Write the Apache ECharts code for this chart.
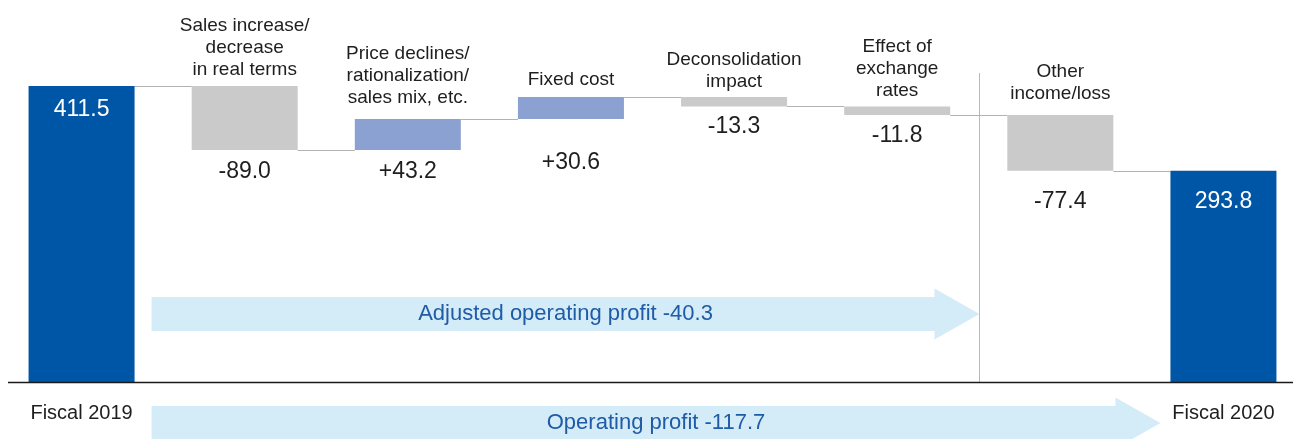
<!DOCTYPE html>
<html>
<head>
<meta charset="utf-8">
<script src="https://cdn.jsdelivr.net/npm/echarts@6/dist/echarts.min.js"></script>
<style>
  html, body { margin: 0; padding: 0; background: #ffffff; overflow: hidden; }
  #chart { width: 1305px; height: 439px; }
</style>
</head>
<body>
<div id="chart"></div>
<script>
// Operating profit bridge, fiscal 2019 -> fiscal 2020 (billions of yen)
const categories = [
  'Fiscal 2019',
  'Sales increase/\ndecrease\nin real terms',
  'Price declines/\nrationalization/\nsales mix, etc.',
  'Fixed cost',
  'Deconsolidation\nimpact',
  'Effect of\nexchange\nrates',
  'Other\nincome/loss',
  'Fiscal 2020'
];
// first and last entries are totals, the rest are changes
const values = [411.5, -89.0, 43.2, 30.6, -13.3, -11.8, -77.4, 293.8];
const kinds = ['total', 'down', 'up', 'up', 'down', 'down', 'down', 'total'];
const arrowLabels = ['Adjusted operating profit -40.3', 'Operating profit -117.7'];

// layout settings
const VIEW_W = 1293;
const BAR_W = 106;
const FONT = '"Liberation Sans", Arial, Helvetica, sans-serif';
const COLORS = { total: '#0056a6', down: '#c9cac9', up: '#8aa1d2' };
const nameGap = [0, 5, 10, 6, 4, 5, 10, 0];        // name label gap above bar
const valueGap = [11, 9, 9, 31, 7, 8, 18, 18];     // value label gap below bar / inside total
const ARROW_FILL = '#d4ebf8';
const ARROW_TEXT = '#1f5ba6';

function fmt(v, kind) {
  if (kind === 'total') return v.toFixed(1);
  return (v > 0 ? '+' : '-') + Math.abs(v).toFixed(1);
}

// waterfall geometry: invisible base + visible segment, plus running level
const baseData = [];
const barData = [];
const levels = [];
let level = 0;
values.forEach((v, i) => {
  const kind = kinds[i];
  let base, height;
  if (kind === 'total') {
    base = 0; height = v; level = v;
  } else {
    const next = level + v;
    base = Math.min(level, next);
    height = Math.abs(v);
    level = next;
  }
  levels.push(level);
  baseData.push({
    value: base,
    label: kind === 'total' ? { show: false } : {
      show: true, position: 'insideTop', distance: valueGap[i],
      formatter: fmt(v, kind), color: '#1e1e1e', fontSize: 23, lineHeight: 26, fontFamily: FONT
    }
  });
  barData.push({
    value: height,
    itemStyle: { color: COLORS[kind] },
    label: kind === 'total' ? {
      show: true, position: 'insideTop', distance: valueGap[i],
      formatter: fmt(v, kind), color: '#ffffff', fontSize: 23, lineHeight: 26, fontFamily: FONT
    } : {
      show: true, position: 'top', distance: nameGap[i],
      formatter: categories[i], color: '#1e1e1e', fontSize: 19, lineHeight: 22, fontFamily: FONT, align: 'center'
    }
  });
});
const connectorData = levels.slice(0, -1).map((lv, i) => [i, lv]);

const chart = echarts.init(document.getElementById('chart'), null, { renderer: 'canvas' });

chart.setOption({
  animation: false,
  backgroundColor: '#ffffff',
  grid: { left: 0, right: 0, top: 0, bottom: 57 },
  xAxis: {
    type: 'category',
    data: categories,
    axisLine: { show: false },
    axisTick: { show: false },
    axisLabel: {
      interval: 0,
      margin: 21,
      fontSize: 20,
      lineHeight: 20,
      color: '#1e1e1e',
      fontFamily: FONT,
      formatter: (v, i) => (kinds[i] === 'total' ? v : '')
    }
  },
  yAxis: { type: 'value', min: 0, max: 531, show: false, splitLine: { show: false } },
  series: [
    {
      type: 'bar', stack: 'wf', barWidth: BAR_W, silent: true,
      itemStyle: { color: 'rgba(0,0,0,0)' },
      data: baseData, z: 3
    },
    {
      type: 'bar', stack: 'wf', barWidth: BAR_W, silent: true,
      data: barData, z: 3
    },
    {
      type: 'custom', silent: true, z: 2,
      data: connectorData,
      renderItem: function (params, api) {
        const i = api.value(0);
        const lv = api.value(1);
        const a = api.coord([i, lv]);
        const b = api.coord([i + 1, lv]);
        const y = Math.round(a[1]) + 0.5;
        return {
          type: 'line',
          shape: { x1: a[0] + BAR_W / 2, y1: y, x2: b[0] - BAR_W / 2, y2: y },
          style: { stroke: '#b2b2b2', lineWidth: 1 }
        };
      }
    }
  ]
});

// annotations: baseline, separator and summary arrows placed from the axes
function arrow(x0, tip, cy, text) {
  const hs = 17, hh = 25.5, hl = 45;
  return [
    {
      type: 'polygon', silent: true, z: 1,
      shape: { points: [
        [x0, cy - hs], [tip - hl, cy - hs], [tip - hl, cy - hh], [tip, cy],
        [tip - hl, cy + hh], [tip - hl, cy + hs], [x0, cy + hs]
      ] },
      style: { fill: ARROW_FILL }
    },
    {
      type: 'text', silent: true, z: 2,
      x: (x0 + tip) / 2, y: cy,
      style: {
        text: text, fill: ARROW_TEXT, fontSize: 22, fontFamily: FONT,
        align: 'center', verticalAlign: 'middle'
      }
    }
  ];
}

const cx = categories.map((c, i) => chart.convertToPixel({ xAxisIndex: 0 }, i));
const baseY = chart.convertToPixel({ yAxisIndex: 0 }, 0);
const start = cx[0] + BAR_W / 2 + 17;
const sepX = Math.round((cx[5] + cx[6]) / 2) + 0.5;
const endTip = cx[7] - BAR_W / 2 - 10;

chart.setOption({
  graphic: [
    {
      type: 'line', silent: true, z: 0,
      shape: { x1: sepX, y1: 73, x2: sepX, y2: baseY },
      style: { stroke: '#b8b8b8', lineWidth: 1 }
    },
    {
      type: 'line', silent: true, z: 5,
      shape: { x1: 8, y1: Math.round(baseY) + 0.5, x2: VIEW_W, y2: Math.round(baseY) + 0.5 },
      style: { stroke: '#1a1a1a', lineWidth: 1.6 }
    },
    ...arrow(start, sepX, baseY - 68, arrowLabels[0]),
    ...arrow(start, endTip, baseY + 41, arrowLabels[1])
  ]
});
</script>
</body>
</html>
